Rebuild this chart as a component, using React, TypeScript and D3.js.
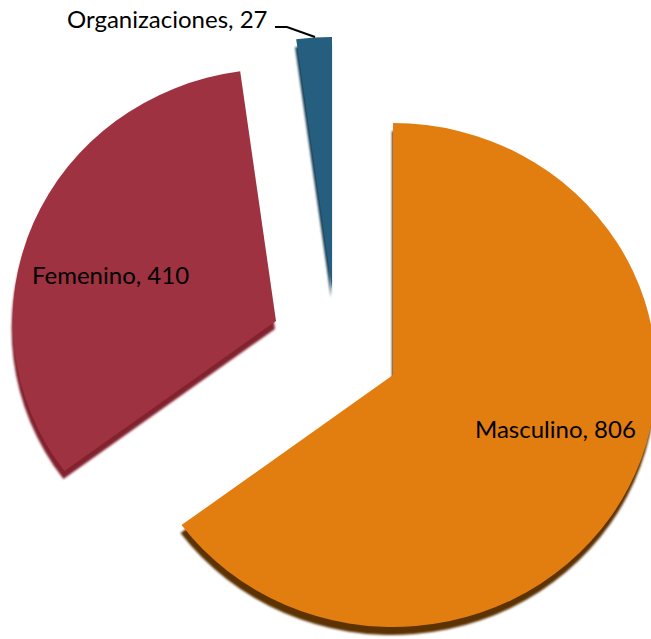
import React, { useEffect, useRef } from 'react';
import * as d3 from 'd3';

// data
const categories = ['Masculino', 'Femenino', 'Organizaciones'];
const values = [806, 410, 27];
const colors = ['#E27D10', '#9E3240', '#255E7E'];
const depthColors = ['#5C3000', '#82202E', '#173E55'];

// layout: where each exploded slice sits (3D tilt makes it a bit wider than tall)
const W = 651;
const H = 639;
const ry = 252;
const stretchX = 1.045;
const centers = [
    [393, 375],
    [276, 321],
    [332, 289],
];

export default function App() {
    const ref = useRef<SVGSVGElement>(null);

    useEffect(() => {
        const svg = d3.select(ref.current);
        svg.selectAll('*').remove();

        const pieData = d3.pie<number>().sort(null).value(d => d)(values);
        const arc = d3.arc<d3.PieArcDatum<number>>().innerRadius(0).outerRadius(ry);

        svg.append('defs')
            .append('filter')
            .attr('id', 'soft')
            .append('feGaussianBlur')
            .attr('stdDeviation', 1.2);

        const slices = svg.selectAll('g.slice')
            .data(pieData)
            .join('g')
            .attr('class', 'slice')
            .attr('transform', (d, i) => `translate(${centers[i][0]},${centers[i][1]}) scale(${stretchX},1)`);

        // side / depth of the slice
        slices.append('path')
            .attr('d', arc)
            .attr('transform', 'translate(-1,8)')
            .attr('fill', (d, i) => depthColors[i])
            .attr('filter', 'url(#soft)');

        slices.append('path')
            .attr('d', arc)
            .attr('fill', (d, i) => colors[i]);

        const font = 'Lato, "Open Sans", sans-serif';

        svg.append('text')
            .attr('x', 32).attr('y', 284)
            .attr('font-family', font).attr('font-size', 24)
            .text(`${categories[1]}, ${values[1]}`);

        svg.append('text')
            .attr('x', 475).attr('y', 438)
            .attr('font-family', font).attr('font-size', 24)
            .text(`${categories[0]}, ${values[0]}`);

        svg.append('text')
            .attr('x', 67).attr('y', 28)
            .attr('font-family', font).attr('font-size', 24)
            .text(`${categories[2]}, ${values[2]}`);

        // leader line to the small slice
        svg.append('path')
            .attr('d', d3.line()([[275, 27], [287, 27], [315, 37]]))
            .attr('fill', 'none')
            .attr('stroke', '#000')
            .attr('stroke-width', 2);
    }, []);

    return (
        <svg ref={ref} width={W} height={H}
            style={{ position: 'absolute', left: 0, top: 0, background: '#fff' }} />
    );
}
